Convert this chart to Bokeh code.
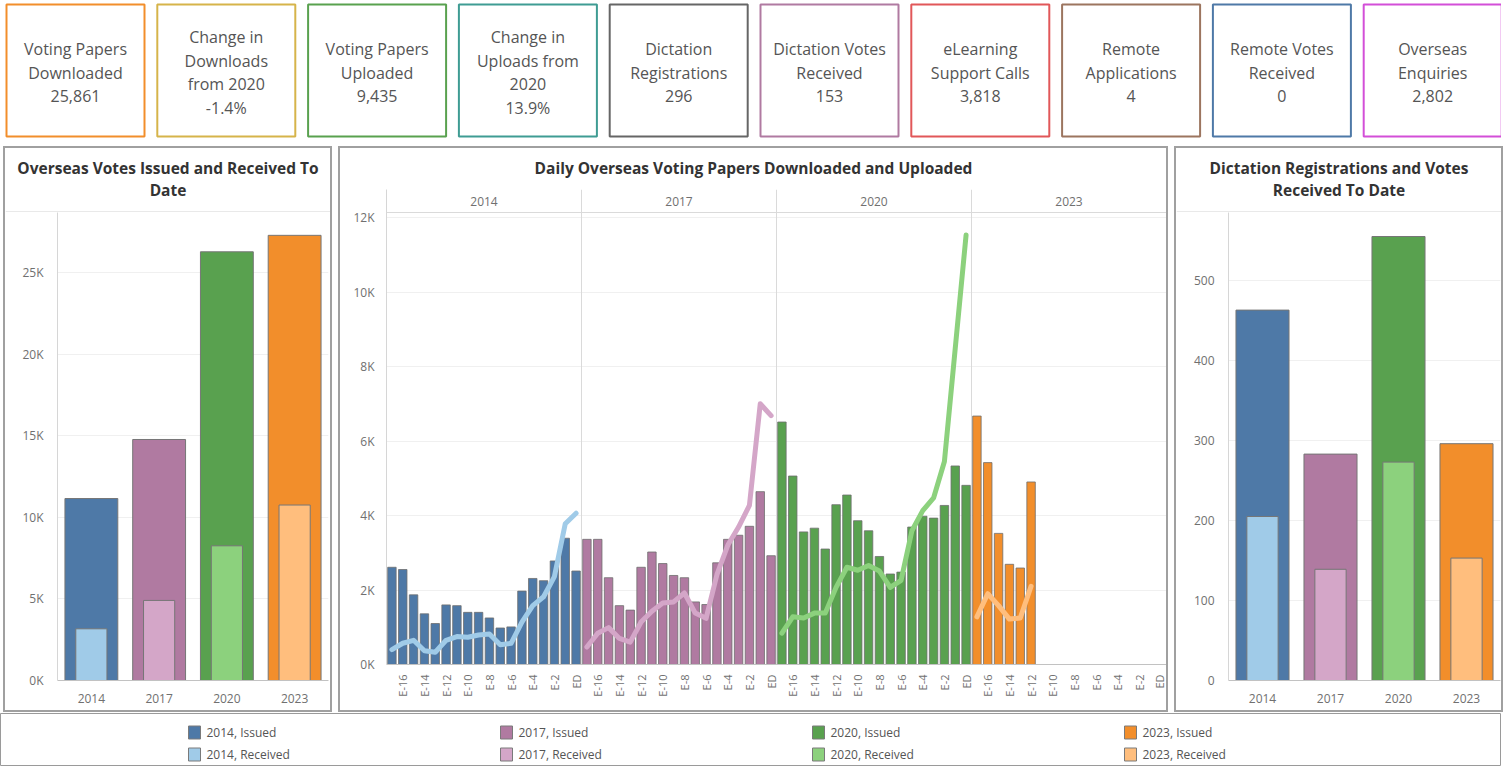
import math
from bokeh.plotting import figure
from bokeh.models import Range1d, FactorRange, FixedTicker, Span, ColumnDataSource, Spacer
from bokeh.layouts import row, column
from bokeh.core.properties import value
from bokeh.embed import file_html
from bokeh.resources import INLINE

# ------------------------------------------------------------------ data
kpi_labels = ["Voting Papers\nDownloaded", "Change in\nDownloads\nfrom 2020", "Voting Papers\nUploaded",
              "Change in\nUploads from\n2020", "Dictation\nRegistrations", "Dictation Votes\nReceived",
              "eLearning\nSupport Calls", "Remote\nApplications", "Remote Votes\nReceived", "Overseas\nEnquiries"]
kpi_values = ["25,861", "-1.4%", "9,435", "13.9%", "296", "153", "3,818", "4", "0", "2,802"]
kpi_colors = ["#F28E2B", "#D6B44A", "#59A14F", "#3F9C93", "#666666", "#B07AA1",
              "#E15759", "#9C755F", "#4E79A7", "#D34FD8"]

years = ["2014", "2017", "2020", "2023"]
series_names = ["Issued", "Received"]
issued_colors = ["#4E79A7", "#B07AA1", "#59A14F", "#F28E2B"]
received_colors = ["#A0CBE8", "#D4A6C8", "#8CD17D", "#FFBE7D"]

overseas_issued = [11160, 14780, 26290, 27300]
overseas_received = [3170, 4910, 8260, 10760]
dictation_registrations = [463, 283, 555, 296]
dictation_received = [205, 139, 273, 153]

days = ["E-17", "E-16", "E-15", "E-14", "E-13", "E-12", "E-11", "E-10", "E-9",
        "E-8", "E-7", "E-6", "E-5", "E-4", "E-3", "E-2", "E-1", "ED"]
downloaded_2014 = [2610, 2550, 1870, 1360, 1100, 1600, 1580, 1400, 1400, 1250, 980, 1010, 1970, 2310, 2250, 2780, 3390, 2510]
uploaded_2014 = [400, 570, 650, 370, 330, 650, 750, 730, 790, 820, 530, 570, 1140, 1580, 1820, 2360, 3780, 4060]
downloaded_2017 = [3360, 3360, 2330, 1580, 1460, 2610, 3020, 2710, 2390, 2330, 1680, 1610, 2730, 3360, 3470, 3710, 4640, 2920]
uploaded_2017 = [470, 840, 990, 700, 600, 1140, 1430, 1650, 1680, 1920, 1380, 1240, 2410, 3200, 3690, 4270, 7000, 6680]
downloaded_2020 = [6510, 5060, 3560, 3660, 3100, 4290, 4550, 3860, 3590, 2900, 2430, 2480, 3690, 3980, 3930, 4270, 5330, 4810]
uploaded_2020 = [840, 1280, 1250, 1380, 1380, 2070, 2610, 2530, 2660, 2510, 2070, 2260, 3590, 4130, 4470, 5450, 8490, 11530]
downloaded_2023 = [6670, 5420, 3520, 2690, 2590, 4900]
uploaded_2023 = [1280, 1900, 1580, 1220, 1250, 2100]

downloaded = [downloaded_2014, downloaded_2017, downloaded_2020, downloaded_2023]
uploaded = [uploaded_2014, uploaded_2017, uploaded_2020, uploaded_2023]

# ------------------------------------------------------------------ style
FONT = "Open Sans"
TICK_COLOR = "#707070"
TITLE_COLOR = "#333333"
PANEL_BORDER = {"outline": "2px solid #a0a0a0"}
W = 1501


def new_fig(**kw):
    return figure(output_backend="svg", toolbar_location=None, frame_align=False, **kw)


def bare_fig(w, h):
    p = new_fig(width=w, height=h, x_range=Range1d(0, w), y_range=Range1d(h, 0),
                x_axis_location=None, y_axis_location=None, min_border=0)
    p.grid.visible = False
    p.outline_line_color = None
    p.background_fill_color = "white"
    p.border_fill_color = "white"
    return p


def title_fig(w, h, lines, sep):
    p = bare_fig(w, h)
    ys = [19.5 + 22 * k for k in range(len(lines))]
    p.text(x=[w / 2] * len(lines), y=ys, text=lines, text_align="center", text_baseline="middle",
           text_font=value(FONT), text_font_style="bold", text_font_size="15.5px", text_color=TITLE_COLOR)
    if sep:
        p.add_layout(Span(location=h - 0.5, dimension="width", line_color="#d2d2d2", line_width=1))
    return p


def style_axes(p, ytick_values, ytick_labels):
    for ax in p.axis:
        ax.major_tick_line_color = None
        ax.minor_tick_line_color = None
        ax.major_label_text_font = FONT
        ax.major_label_text_font_size = "12px"
        ax.major_label_text_color = TICK_COLOR
    p.yaxis.ticker = FixedTicker(ticks=ytick_values)
    p.yaxis.major_label_overrides = dict(zip(ytick_values, ytick_labels))
    p.yaxis.axis_line_color = "#d6d6d6"
    p.xaxis.axis_line_color = "#c2c2c2"
    p.xgrid.visible = False
    p.ygrid.grid_line_color = "#f0f0f0"
    p.outline_line_color = None
    p.border_fill_color = "white"


def bar_panel(w, title_lines, issued, received, yend, tick_values, tick_labels, right_border):
    t = title_fig(w, 64, title_lines, True)
    p = new_fig(width=w, height=498, x_range=FactorRange(*years), y_range=Range1d(0, yend),
                min_border_left=52, min_border_right=right_border, min_border_top=0, min_border_bottom=30)
    src = ColumnDataSource(dict(x=years, issued=issued, received=received,
                                ci=issued_colors, cr=received_colors))
    p.vbar(x="x", top="issued", width=0.78, fill_color="ci", line_color="#767676", line_width=1, source=src)
    p.vbar(x="x", top="received", width=0.46, fill_color="cr", line_color="#767676", line_width=1, source=src)
    style_axes(p, tick_values, tick_labels)
    p.yaxis.major_label_standoff = 8
    p.xaxis.major_label_standoff = 7
    return column(t, p, styles=PANEL_BORDER)


# ------------------------------------------------------------------ KPI row
kpi = bare_fig(W, 148)
tile_x0, tile_step, tile_w, tile_top, tile_bottom = 5, 150.8, 140, 3, 137
lefts = [tile_x0 + i * tile_step for i in range(len(kpi_labels))]
kpi.quad(left=[l + 1 for l in lefts], right=[l + tile_w - 1 for l in lefts], top=tile_top + 1,
         bottom=tile_bottom - 1, fill_color=None, line_color=kpi_colors, line_width=2)
xs, ys, ts = [], [], []
for i, (lab, val) in enumerate(zip(kpi_labels, kpi_values)):
    lines = lab.split("\n") + [val]
    n = len(lines)
    for k, txt in enumerate(lines):
        xs.append(lefts[i] + tile_w / 2)
        ys.append(72 + (k - (n - 1) / 2) * 23.6)
        ts.append(txt)
kpi.text(x=xs, y=ys, text=ts, text_align="center", text_baseline="middle",
         text_font=value(FONT), text_font_size="16px", text_color="#555555")

# ------------------------------------------------------------------ left panel
left_panel = bar_panel(325, ["Overseas Votes Issued and Received To", "Date"],
                       overseas_issued, overseas_received, 28700,
                       [0, 5000, 10000, 15000, 20000, 25000], ["0K", "5K", "10K", "15K", "20K", "25K"], 2)

# ------------------------------------------------------------------ right panel
right_panel = bar_panel(325, ["Dictation Registrations and Votes", "Received To Date"],
                        dictation_registrations, dictation_received, 585,
                        [0, 100, 200, 300, 400, 500], ["0", "100", "200", "300", "400", "500"], 1)

# ------------------------------------------------------------------ middle panel
MW, MH, FRAME_H, HEADER_H = 826, 521, 475, 23
n_days = len(days)
y_end = 12752
header_bottom = y_end * (1 - HEADER_H / FRAME_H)
mt = title_fig(MW, 41, ["Daily Overseas Voting Papers Downloaded and Uploaded"], False)
m = new_fig(width=MW, height=MH, x_range=Range1d(-0.5, n_days * len(years) - 0.5), y_range=Range1d(0, y_end),
            min_border_left=46, min_border_right=0, min_border_top=0, min_border_bottom=MH - FRAME_H)
for g in range(len(years)):
    xb = [g * n_days + i for i in range(len(downloaded[g]))]
    m.vbar(x=xb, top=downloaded[g], width=0.78, fill_color=issued_colors[g], line_color="#6f6f6f", line_width=0.8)
for g in range(len(years)):
    xl = [g * n_days + i for i in range(len(uploaded[g]))]
    m.line(x=xl, y=uploaded[g], line_width=5, line_color=received_colors[g], line_cap="round", line_join="round")
for g in range(1, len(years)):
    m.add_layout(Span(location=g * n_days - 0.5, dimension="height", line_color="#dadada", line_width=1))
m.add_layout(Span(location=header_bottom, dimension="width", line_color="#dadada", line_width=1))
m.text(x=[g * n_days + (n_days - 1) / 2 for g in range(len(years))], y=[(header_bottom + y_end) / 2] * len(years),
       text=years, text_align="center", text_baseline="middle", text_font=value(FONT),
       text_font_size="12px", text_color=TICK_COLOR)
ytv = [0, 2000, 4000, 6000, 8000, 10000, 12000]
style_axes(m, ytv, ["0K", "2K", "4K", "6K", "8K", "10K", "12K"])
m.yaxis.major_label_standoff = 6
xt = [g * n_days + i for g in range(len(years)) for i in range(1, n_days, 2)]
m.xaxis.ticker = FixedTicker(ticks=xt)
m.xaxis.major_label_overrides = {t: days[t % n_days] for t in xt}
m.xaxis.major_label_orientation = math.pi / 2
m.xaxis.major_label_text_font_size = "11px"
m.xaxis.major_label_standoff = 4
mid_panel = column(mt, m, styles=PANEL_BORDER)

# ------------------------------------------------------------------ legend
lg = bare_fig(W, 53)
lg.outline_line_color = "#9a9a9a"
lx, ly, lt, lc = [], [], [], []
for g, yr in enumerate(years):
    for s, name in enumerate(series_names):
        lx.append(188 + 312 * g)
        ly.append(19 + 22 * s)
        lt.append(f"{yr}, {name}")
        lc.append(issued_colors[g] if s == 0 else received_colors[g])
lg.rect(x=[x + 6 for x in lx], y=ly, width=12, height=13, fill_color=lc, line_color="#7a7a7a", line_width=1)
lg.text(x=[x + 18 for x in lx], y=ly, text=lt, text_baseline="middle", text_font=value(FONT),
        text_font_size="12px", text_color="#555555")

layout = column(kpi,
                row(Spacer(width=5, height=562), left_panel, Spacer(width=10, height=562), mid_panel,
                    Spacer(width=10, height=562), right_panel),
                Spacer(width=W, height=3),
                lg)

open("out.html", "w").write(file_html(layout, INLINE))
